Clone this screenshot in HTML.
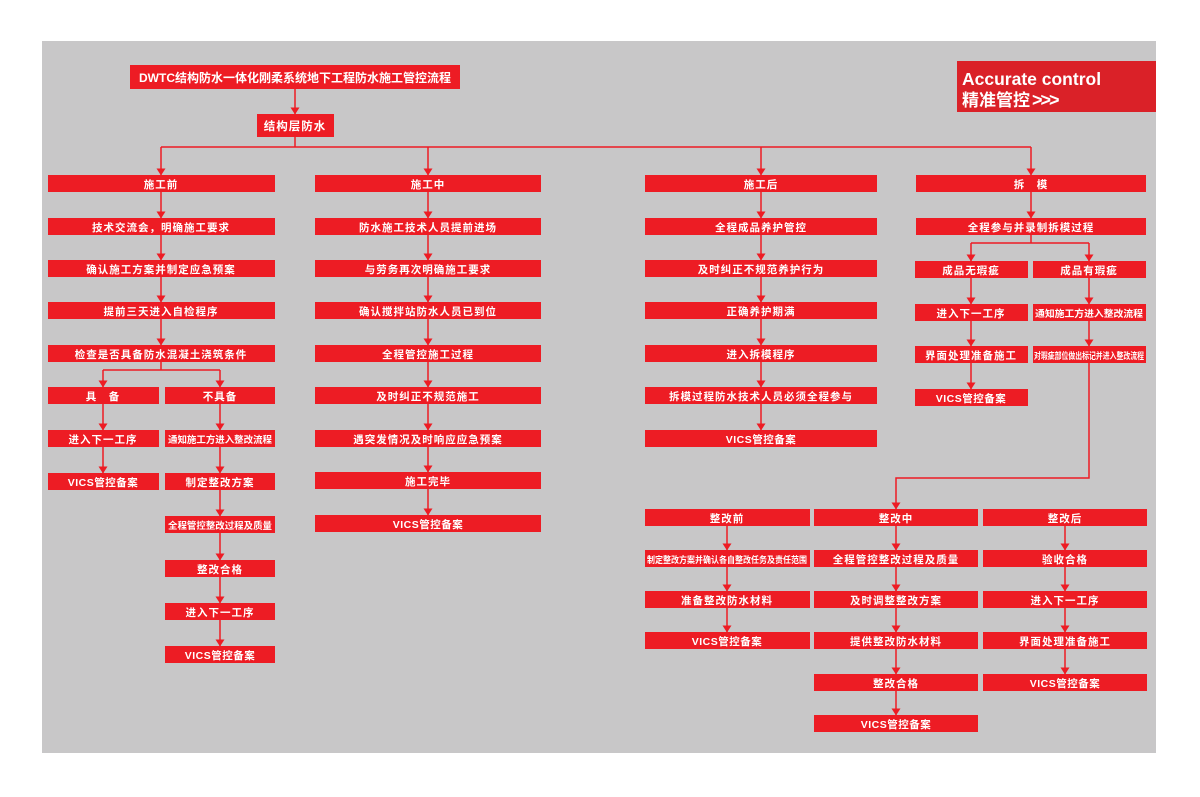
<!DOCTYPE html>
<html><head><meta charset="utf-8"><style>
html,body{margin:0;padding:0;background:#fff;}
svg{display:block;}
text{font-family:"Liberation Sans","Noto Sans CJK SC",sans-serif;font-weight:bold;fill:#fff;}
</style></head><body>
<svg width="1200" height="797" viewBox="0 0 1200 797" xmlns="http://www.w3.org/2000/svg">
<defs>
<marker id="a" markerWidth="7" markerHeight="9" refX="6.5" refY="4.5" orient="auto" markerUnits="userSpaceOnUse"><path d="M0,0 L7,4.5 L0,9 Z" fill="#ed1c24"/></marker>
</defs>
<rect x="0" y="0" width="1200" height="797" fill="#fff"/>
<rect x="42" y="41" width="1114" height="712" fill="#c8c7c8"/>
<!-- header -->
<rect x="957" y="61" width="199" height="51" fill="#da2128"/>
<text x="962" y="85" font-size="17.5" style="font-family:'Liberation Sans',sans-serif">Accurate control</text>
<text x="962" y="106" font-size="17" style="font-family:'Liberation Sans','Noto Sans CJK SC',sans-serif">精准管控<tspan dx="2" font-size="18" letter-spacing="-2">&gt;&gt;&gt;</tspan></text>

<g stroke="#ed1c24" stroke-width="1.5" fill="none">
<line x1="295" y1="89" x2="295" y2="114" marker-end="url(#a)"/>
<line x1="295" y1="137" x2="295" y2="147"/>
<line x1="161" y1="147" x2="1031" y2="147"/>
<line x1="161" y1="147" x2="161" y2="175" marker-end="url(#a)"/>
<line x1="428" y1="147" x2="428" y2="175" marker-end="url(#a)"/>
<line x1="761" y1="147" x2="761" y2="175" marker-end="url(#a)"/>
<line x1="1031" y1="147" x2="1031" y2="175" marker-end="url(#a)"/>
<line x1="161" y1="192" x2="161" y2="218" marker-end="url(#a)"/>
<line x1="161" y1="235" x2="161" y2="260" marker-end="url(#a)"/>
<line x1="161" y1="277" x2="161" y2="302" marker-end="url(#a)"/>
<line x1="161" y1="319" x2="161" y2="345" marker-end="url(#a)"/>
<line x1="161" y1="362" x2="161" y2="370"/>
<line x1="103" y1="370" x2="220" y2="370"/>
<line x1="103" y1="370" x2="103" y2="387" marker-end="url(#a)"/>
<line x1="220" y1="370" x2="220" y2="387" marker-end="url(#a)"/>
<line x1="103" y1="404" x2="103" y2="430" marker-end="url(#a)"/>
<line x1="103" y1="447" x2="103" y2="473" marker-end="url(#a)"/>
<line x1="220" y1="404" x2="220" y2="430" marker-end="url(#a)"/>
<line x1="220" y1="447" x2="220" y2="473" marker-end="url(#a)"/>
<line x1="220" y1="490" x2="220" y2="516" marker-end="url(#a)"/>
<line x1="220" y1="533" x2="220" y2="560" marker-end="url(#a)"/>
<line x1="220" y1="577" x2="220" y2="603" marker-end="url(#a)"/>
<line x1="220" y1="620" x2="220" y2="646" marker-end="url(#a)"/>
<line x1="428" y1="192" x2="428" y2="218" marker-end="url(#a)"/>
<line x1="428" y1="235" x2="428" y2="260" marker-end="url(#a)"/>
<line x1="428" y1="277" x2="428" y2="302" marker-end="url(#a)"/>
<line x1="428" y1="319" x2="428" y2="345" marker-end="url(#a)"/>
<line x1="428" y1="362" x2="428" y2="387" marker-end="url(#a)"/>
<line x1="428" y1="404" x2="428" y2="430" marker-end="url(#a)"/>
<line x1="428" y1="447" x2="428" y2="472" marker-end="url(#a)"/>
<line x1="428" y1="489" x2="428" y2="515" marker-end="url(#a)"/>
<line x1="761" y1="192" x2="761" y2="218" marker-end="url(#a)"/>
<line x1="761" y1="235" x2="761" y2="260" marker-end="url(#a)"/>
<line x1="761" y1="277" x2="761" y2="302" marker-end="url(#a)"/>
<line x1="761" y1="319" x2="761" y2="345" marker-end="url(#a)"/>
<line x1="761" y1="362" x2="761" y2="387" marker-end="url(#a)"/>
<line x1="761" y1="404" x2="761" y2="430" marker-end="url(#a)"/>
<line x1="1031" y1="192" x2="1031" y2="218" marker-end="url(#a)"/>
<line x1="1031" y1="235" x2="1031" y2="243"/>
<line x1="971" y1="243" x2="1089" y2="243"/>
<line x1="971" y1="243" x2="971" y2="261" marker-end="url(#a)"/>
<line x1="1089" y1="243" x2="1089" y2="261" marker-end="url(#a)"/>
<line x1="971" y1="278" x2="971" y2="304" marker-end="url(#a)"/>
<line x1="971" y1="321" x2="971" y2="346" marker-end="url(#a)"/>
<line x1="971" y1="363" x2="971" y2="389" marker-end="url(#a)"/>
<line x1="1089" y1="278" x2="1089" y2="304" marker-end="url(#a)"/>
<line x1="1089" y1="321" x2="1089" y2="346" marker-end="url(#a)"/>
<polyline points="1089,363 1089,478 896,478 896,509" marker-end="url(#a)"/>
<line x1="727" y1="526" x2="727" y2="550" marker-end="url(#a)"/>
<line x1="727" y1="567" x2="727" y2="591" marker-end="url(#a)"/>
<line x1="727" y1="608" x2="727" y2="632" marker-end="url(#a)"/>
<line x1="896" y1="526" x2="896" y2="550" marker-end="url(#a)"/>
<line x1="896" y1="567" x2="896" y2="591" marker-end="url(#a)"/>
<line x1="896" y1="608" x2="896" y2="632" marker-end="url(#a)"/>
<line x1="896" y1="649" x2="896" y2="674" marker-end="url(#a)"/>
<line x1="896" y1="691" x2="896" y2="715" marker-end="url(#a)"/>
<line x1="1065" y1="526" x2="1065" y2="550" marker-end="url(#a)"/>
<line x1="1065" y1="567" x2="1065" y2="591" marker-end="url(#a)"/>
<line x1="1065" y1="608" x2="1065" y2="632" marker-end="url(#a)"/>
<line x1="1065" y1="649" x2="1065" y2="674" marker-end="url(#a)"/>
</g>

<g fill="#ed1c24">
<rect x="130" y="65" width="330" height="24"/>
<rect x="257" y="114" width="77" height="23"/>
<rect x="48" y="175" width="227" height="17"/><rect x="48" y="218" width="227" height="17"/><rect x="48" y="260" width="227" height="17"/><rect x="48" y="302" width="227" height="17"/><rect x="48" y="345" width="227" height="17"/>
<rect x="48" y="387" width="111" height="17"/><rect x="48" y="430" width="111" height="17"/><rect x="48" y="473" width="111" height="17"/>
<rect x="165" y="387" width="110" height="17"/><rect x="165" y="430" width="110" height="17"/><rect x="165" y="473" width="110" height="17"/><rect x="165" y="516" width="110" height="17"/><rect x="165" y="560" width="110" height="17"/><rect x="165" y="603" width="110" height="17"/><rect x="165" y="646" width="110" height="17"/>
<rect x="315" y="175" width="226" height="17"/><rect x="315" y="218" width="226" height="17"/><rect x="315" y="260" width="226" height="17"/><rect x="315" y="302" width="226" height="17"/><rect x="315" y="345" width="226" height="17"/><rect x="315" y="387" width="226" height="17"/><rect x="315" y="430" width="226" height="17"/><rect x="315" y="472" width="226" height="17"/><rect x="315" y="515" width="226" height="17"/>
<rect x="645" y="175" width="232" height="17"/><rect x="645" y="218" width="232" height="17"/><rect x="645" y="260" width="232" height="17"/><rect x="645" y="302" width="232" height="17"/><rect x="645" y="345" width="232" height="17"/><rect x="645" y="387" width="232" height="17"/><rect x="645" y="430" width="232" height="17"/>
<rect x="916" y="175" width="230" height="17"/><rect x="916" y="218" width="230" height="17"/>
<rect x="915" y="261" width="113" height="17"/><rect x="915" y="304" width="113" height="17"/><rect x="915" y="346" width="113" height="17"/><rect x="915" y="389" width="113" height="17"/>
<rect x="1033" y="261" width="113" height="17"/><rect x="1033" y="304" width="113" height="17"/><rect x="1033" y="346" width="113" height="17"/>
<rect x="645" y="509" width="165" height="17"/><rect x="645" y="550" width="165" height="17"/><rect x="645" y="591" width="165" height="17"/><rect x="645" y="632" width="165" height="17"/>
<rect x="814" y="509" width="164" height="17"/><rect x="814" y="550" width="164" height="17"/><rect x="814" y="591" width="164" height="17"/><rect x="814" y="632" width="164" height="17"/><rect x="814" y="674" width="164" height="17"/><rect x="814" y="715" width="164" height="17"/>
<rect x="983" y="509" width="164" height="17"/><rect x="983" y="550" width="164" height="17"/><rect x="983" y="591" width="164" height="17"/><rect x="983" y="632" width="164" height="17"/><rect x="983" y="674" width="164" height="17"/>
</g>

<g font-size="10.5" text-anchor="middle" letter-spacing="1">
<text x="295" y="82" font-size="12" letter-spacing="0">DWTC结构防水一体化刚柔系统地下工程防水施工管控流程</text>
<text x="295" y="130" font-size="11.5">结构层防水</text>
<text x="161" y="188">施工前</text>
<text x="161" y="231">技术交流会，明确施工要求</text>
<text x="161" y="273">确认施工方案并制定应急预案</text>
<text x="161" y="315">提前三天进入自检程序</text>
<text x="161" y="358">检查是否具备防水混凝土浇筑条件</text>
<text x="103" y="400">具　备</text>
<text x="103" y="443">进入下一工序</text>
<text x="103" y="486" letter-spacing="0.5">VICS管控备案</text>
<text x="220" y="400">不具备</text>
<text x="220" y="443" font-size="9.5" letter-spacing="0" textLength="104" lengthAdjust="spacingAndGlyphs">通知施工方进入整改流程</text>
<text x="220" y="486">制定整改方案</text>
<text x="220" y="529" font-size="9.5" letter-spacing="0" textLength="104" lengthAdjust="spacingAndGlyphs">全程管控整改过程及质量</text>
<text x="220" y="573">整改合格</text>
<text x="220" y="616">进入下一工序</text>
<text x="220" y="659" letter-spacing="0.5">VICS管控备案</text>
<text x="428" y="188">施工中</text>
<text x="428" y="231">防水施工技术人员提前进场</text>
<text x="428" y="273">与劳务再次明确施工要求</text>
<text x="428" y="315">确认搅拌站防水人员已到位</text>
<text x="428" y="358">全程管控施工过程</text>
<text x="428" y="400">及时纠正不规范施工</text>
<text x="428" y="443">遇突发情况及时响应应急预案</text>
<text x="428" y="485">施工完毕</text>
<text x="428" y="528" letter-spacing="0.5">VICS管控备案</text>
<text x="761" y="188">施工后</text>
<text x="761" y="231">全程成品养护管控</text>
<text x="761" y="273">及时纠正不规范养护行为</text>
<text x="761" y="315">正确养护期满</text>
<text x="761" y="358">进入拆模程序</text>
<text x="761" y="400">拆模过程防水技术人员必须全程参与</text>
<text x="761" y="443" letter-spacing="0.5">VICS管控备案</text>
<text x="1031" y="188">拆　模</text>
<text x="1031" y="231">全程参与并录制拆模过程</text>
<text x="971" y="274">成品无瑕疵</text>
<text x="971" y="317">进入下一工序</text>
<text x="971" y="359">界面处理准备施工</text>
<text x="971" y="402" letter-spacing="0.5">VICS管控备案</text>
<text x="1089" y="274">成品有瑕疵</text>
<text x="1089" y="317" font-size="9.5" letter-spacing="0" textLength="108" lengthAdjust="spacingAndGlyphs">通知施工方进入整改流程</text>
<text x="1089" y="359" font-size="9" letter-spacing="0" textLength="110" lengthAdjust="spacingAndGlyphs">对瑕疵部位做出标记并进入整改流程</text>
<text x="727" y="522">整改前</text>
<text x="727" y="563" font-size="9" letter-spacing="0" textLength="160" lengthAdjust="spacingAndGlyphs">制定整改方案并确认各自整改任务及责任范围</text>
<text x="727" y="604">准备整改防水材料</text>
<text x="727" y="645" letter-spacing="0.5">VICS管控备案</text>
<text x="896" y="522">整改中</text>
<text x="896" y="563">全程管控整改过程及质量</text>
<text x="896" y="604">及时调整整改方案</text>
<text x="896" y="645">提供整改防水材料</text>
<text x="896" y="687">整改合格</text>
<text x="896" y="728" letter-spacing="0.5">VICS管控备案</text>
<text x="1065" y="522">整改后</text>
<text x="1065" y="563">验收合格</text>
<text x="1065" y="604">进入下一工序</text>
<text x="1065" y="645">界面处理准备施工</text>
<text x="1065" y="687" letter-spacing="0.5">VICS管控备案</text>
</g>
</svg>
</body></html>
